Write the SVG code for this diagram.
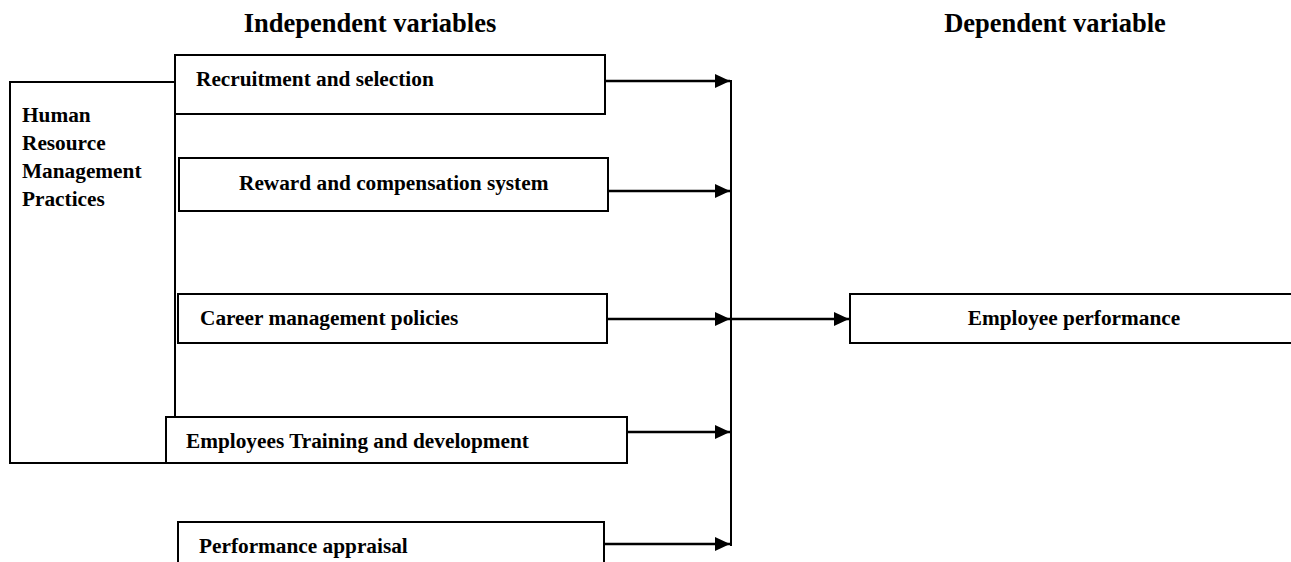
<svg xmlns="http://www.w3.org/2000/svg" width="1291" height="562" viewBox="0 0 1291 562">
<style>
.box{fill:#fff;stroke:#000;stroke-width:2}
.t{font-family:"Liberation Serif","Times New Roman",serif;font-weight:bold;font-size:21.3px;fill:#000}
.h{font-family:"Liberation Serif","Times New Roman",serif;font-weight:bold;font-size:26.5px;fill:#000}
.c{stroke:#000;stroke-width:2.5;fill:none}
</style>
<defs>
<marker id="arr" markerUnits="userSpaceOnUse" markerWidth="16" markerHeight="16" viewBox="0 0 16 16" refX="15" refY="8" orient="auto">
<path d="M0,1 L15,8 L0,15 Z" fill="#000"/>
</marker>
</defs>
<rect width="1291" height="562" fill="#fff"/>
<text class="h" x="370" y="32" text-anchor="middle">Independent variables</text>
<text class="h" x="1055" y="32" text-anchor="middle">Dependent variable</text>
<g id="hrm">
<rect class="box" x="10" y="82" width="165" height="381"/>
<text class="t" x="22" y="122">Human</text>
<text class="t" x="22" y="150">Resource</text>
<text class="t" x="22" y="178">Management</text>
<text class="t" x="22" y="206">Practices</text>
</g>
<g id="recruitment">
<rect class="box" x="175" y="55" width="430" height="59"/>
<text class="t" x="196" y="86">Recruitment and selection</text>
</g>
<g id="reward">
<rect class="box" x="179" y="158" width="429" height="53"/>
<text class="t" x="239" y="190">Reward and compensation system</text>
</g>
<g id="career">
<rect class="box" x="178" y="294" width="429" height="49"/>
<text class="t" x="200" y="325">Career management policies</text>
</g>
<g id="training">
<rect class="box" x="166" y="417" width="461" height="46"/>
<text class="t" x="186" y="448">Employees Training and development</text>
</g>
<g id="appraisal">
<rect class="box" x="178" y="522" width="426" height="50"/>
<text class="t" x="199" y="553">Performance appraisal</text>
</g>
<g id="performance">
<rect class="box" x="850" y="294" width="450" height="49"/>
<text class="t" x="1074" y="325" text-anchor="middle">Employee performance</text>
</g>
<g id="connectors">
<line class="c" x1="605" y1="81" x2="730" y2="81" marker-end="url(#arr)"/>
<line class="c" x1="608" y1="191" x2="730" y2="191" marker-end="url(#arr)"/>
<line class="c" x1="607" y1="319" x2="730" y2="319" marker-end="url(#arr)"/>
<line class="c" x1="627" y1="432" x2="730" y2="432" marker-end="url(#arr)"/>
<line class="c" x1="604" y1="544" x2="730" y2="544" marker-end="url(#arr)"/>
<line x1="731" y1="80" x2="731" y2="546" stroke="#000" stroke-width="2"/>
<line class="c" x1="731" y1="319" x2="849" y2="319" marker-end="url(#arr)"/>
</g>
</svg>
